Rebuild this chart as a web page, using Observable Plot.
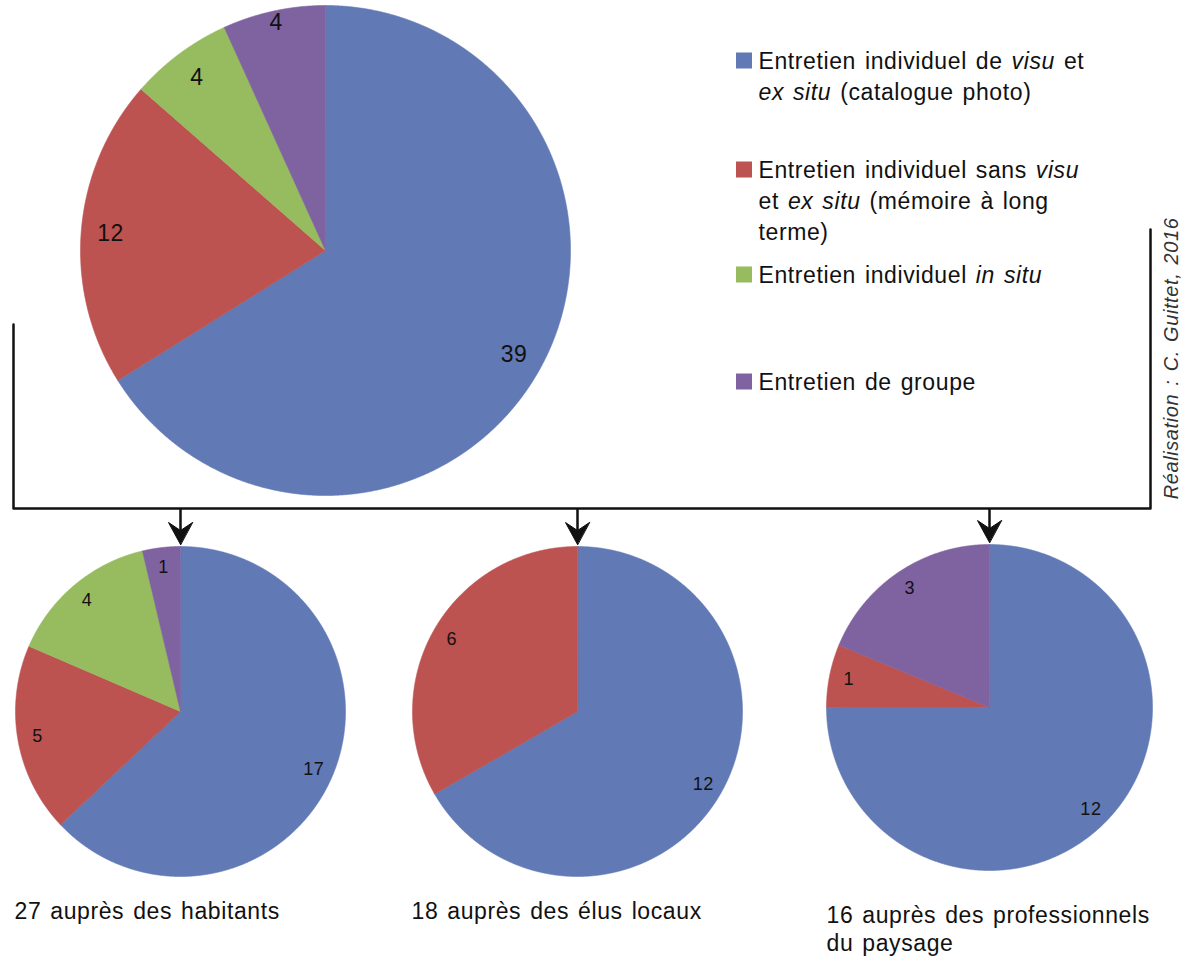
<!DOCTYPE html>
<html>
<head>
<meta charset="utf-8">
<script src="https://cdn.jsdelivr.net/npm/d3@7"></script>
<script src="https://cdn.jsdelivr.net/npm/@observablehq/plot@0.6"></script>
<style>
  body { margin: 0; background: #fff; }
  #chart svg text { letter-spacing: 0.6px; word-spacing: 2px; }
</style>
</head>
<body>
<div id="chart"></div>
<script>
// ---------- DATA ----------
const categories = [
  "Entretien individuel de visu et ex situ (catalogue photo)",
  "Entretien individuel sans visu et ex situ (mémoire à long terme)",
  "Entretien individuel in situ",
  "Entretien de groupe"
];
const colors = ["#6179b5", "#bc5350", "#97bb5f", "#7f62a0"];
const legendLabels = [
  ["Entretien individuel de *visu* et", "*ex situ* (catalogue photo)"],
  ["Entretien individuel sans *visu*", "et *ex situ* (mémoire à long", "terme)"],
  ["Entretien individuel *in situ*"],
  ["Entretien de groupe"]
];
const totalValues = [39, 12, 4, 4];
const habitantsValues = [17, 5, 4, 1];
const elusValues = [12, 6, 0, 0];
const proValues = [12, 1, 0, 3];
const captions = [
  ["27 auprès des habitants"],
  ["18 auprès des élus locaux"],
  ["16 auprès des professionnels", "du paysage"]
];
const credit = "Réalisation : C. Guittet, 2016";

// ---------- LAYOUT ----------
const W = 1189, H = 958;
const font = "'Liberation Sans', Arial, Helvetica, sans-serif";
const pies = [
  {values: totalValues, cx: 325, cy: 250, r: 245, big: true},
  {values: habitantsValues, cx: 180, cy: 711, r: 165},
  {values: elusValues, cx: 577, cy: 711, r: 165},
  {values: proValues, cx: 989, cy: 707, r: 163}
];
const labelFrac = 0.88;
const pieGen = d3.pie().sort(null).value(d => d);

const slicePts = [];
const labels = [];
pies.forEach((p, pi) => {
  pieGen(p.values).forEach((a, si) => {
    if (a.value <= 0) return;
    const id = pi + "-" + si;
    const cat = categories[si];
    slicePts.push({id, cat, x: p.cx, y: p.cy});
    const n = Math.max(2, Math.ceil((a.endAngle - a.startAngle) / (Math.PI / 720)));
    for (let k = 0; k <= n; k++) {
      const t = a.startAngle + (a.endAngle - a.startAngle) * k / n;
      slicePts.push({id, cat, x: p.cx + p.r * Math.sin(t), y: p.cy - p.r * Math.cos(t)});
    }
    const m = (a.startAngle + a.endAngle) / 2;
    // narrow slice at the top of the large pie: label pushed a bit further out
    const f = p.big && (a.endAngle - a.startAngle) < 0.45 && m > 5.9 ? 0.95 : labelFrac;
    labels.push({
      big: !!p.big,
      text: String(a.value),
      x: p.cx + f * p.r * Math.sin(m),
      y: p.cy - f * p.r * Math.cos(m)
    });
  });
});

// bracket and arrows
const bracketY = 508;
const bracket = [
  {x: 13, y: 324}, {x: 13, y: bracketY}, {x: 1150, y: bracketY}, {x: 1150, y: 229}
];
const smallPies = pies.slice(1);
const shafts = smallPies.map(p => ({x: p.cx, y1: bracketY, y2: 530}));
const heads = [];
smallPies.forEach((p, i) => {
  const tip = p.cy - p.r - 2;
  heads.push({id: i, x: p.cx, y: tip});
  heads.push({id: i, x: p.cx - 12, y: tip - 22});
  heads.push({id: i, x: p.cx, y: tip - 14});
  heads.push({id: i, x: p.cx + 12, y: tip - 22});
});

// legend
const legendBaselines = [68, 177, 282, 389];
const legendLineH = 31;
const legendSquares = legendBaselines.map((b, i) => ({cat: categories[i], y1: b - 15.5, y2: b + 0.5}));
const legendLines = [];
legendLabels.forEach((lines, i) => lines.forEach((t, j) => legendLines.push({text: t, y: legendBaselines[i] + j * legendLineH})));

// captions
const captionX = [14, 411, 826];
const captionBase = [918, 918, 922];
const captionLines = [];
captions.forEach((lines, i) => lines.forEach((t, j) => captionLines.push({text: t, x: captionX[i], y: captionBase[i] + j * 28})));

const svg = Plot.plot({
  width: W, height: H, margin: 0,
  x: {domain: [0, W], range: [0, W], axis: null},
  y: {domain: [0, H], range: [0, H], axis: null},
  color: {domain: categories, range: colors},
  style: {fontFamily: font, background: "#fff", overflow: "visible"},
  marks: [
    Plot.line(slicePts, {x: "x", y: "y", z: "id", fill: "cat", stroke: "cat", strokeWidth: 0.6, curve: "linear-closed"}),
    Plot.text(labels.filter(d => d.big), {x: "x", y: "y", text: "text", fontSize: 23, fill: "#111"}),
    Plot.text(labels.filter(d => !d.big), {x: "x", y: "y", text: "text", fontSize: 18, fill: "#111"}),
    Plot.line(bracket, {x: "x", y: "y", stroke: "#111", strokeWidth: 2.5}),
    Plot.link(shafts, {x1: "x", x2: "x", y1: "y1", y2: "y2", stroke: "#111", strokeWidth: 2.5}),
    Plot.line(heads, {x: "x", y: "y", z: "id", fill: "#111", stroke: "#111", strokeWidth: 1, curve: "linear-closed"}),
    Plot.rect(legendSquares, {x1: 736, x2: 752, y1: "y1", y2: "y2", fill: "cat"}),
    Plot.text(legendLines, {x: 758, y: "y", text: "text", textAnchor: "start", lineAnchor: "bottom", fontSize: 23, fill: "#111"}),
    Plot.text(captionLines, {x: "x", y: "y", text: "text", textAnchor: "start", lineAnchor: "bottom", fontSize: 23, fill: "#111"}),
    Plot.text([credit], {x: 1171, y: 358, text: d => d, rotate: -90, fontSize: 20, fontStyle: "italic", fill: "#333"})
  ]
});

// italic segments marked with *...*
svg.querySelectorAll("text").forEach(t => {
  const s = t.textContent;
  if (!s.includes("*")) return;
  while (t.firstChild) t.removeChild(t.firstChild);
  s.split("*").forEach((part, i) => {
    if (!part) return;
    const ts = document.createElementNS("http://www.w3.org/2000/svg", "tspan");
    if (i % 2) ts.setAttribute("font-style", "italic");
    ts.textContent = part;
    t.appendChild(ts);
  });
});

document.getElementById("chart").appendChild(svg);
</script>
</body>
</html>
